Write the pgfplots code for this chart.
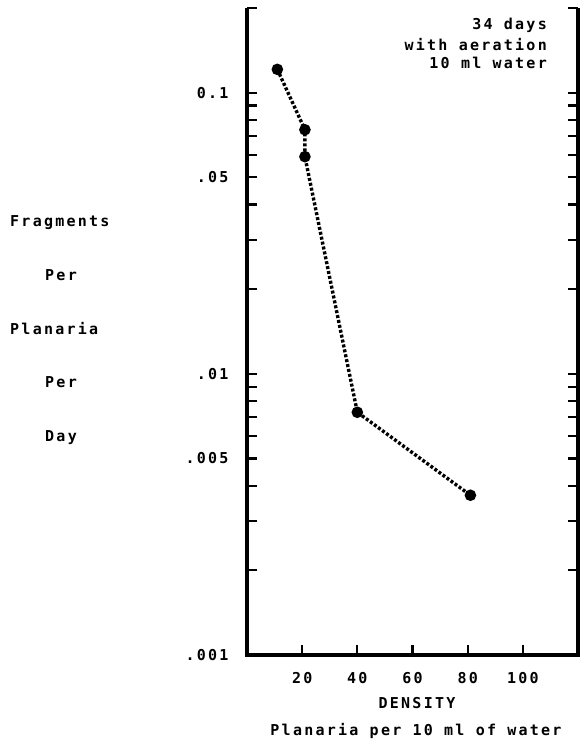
\documentclass[border=0pt]{standalone}
\usepackage{fontspec}
\newfontfamily\tw[LetterSpace=15]{DejaVu Sans Mono Bold}
\usepackage{pgfplots}
\pgfplotsset{compat=1.18}
\newcommand\lbl{\tw\fontsize{15}{18}\selectfont}
\begin{document}
\begin{tikzpicture}[x=1pt,y=1pt]
\useasboundingbox (-247,-89) rectangle (333,655);
\begin{axis}[
    scale only axis, width=331pt, height=647pt,
    xmin=0, xmax=120, ymode=log, ymin=0.001, ymax=0.2,
    axis line style={draw=none}, clip=false,
    tick align=inside, major tick length=10pt, minor tick length=10pt,
    tick style={black, line width=2.2pt},
    xtick={20,40,60,80,100}, xticklabels={20,40,60,80,100}, xtick pos=bottom,
    ytick={0.001,0.005,0.01,0.05,0.1}, yticklabels={.001,.005,.01,.05,0.1},
    minor ytick={0.002,0.003,0.004,0.006,0.007,0.008,0.009,0.02,0.03,0.04,0.06,0.07,0.08,0.09,0.2},
    ytick pos=both, yticklabel pos=left,
    ticklabel style={font=\lbl},
    xticklabel style={yshift=-14pt},
    yticklabel style={xshift=-15pt},
]
    \draw[line width=3.4pt] (rel axis cs:0,1) -- (rel axis cs:0,0) -- (rel axis cs:1,0) -- (rel axis cs:1,1);
    \addplot[black, line width=3.4pt, dash pattern=on 3pt off 2pt, mark=*, mark size=4pt, mark options={solid}]
        coordinates {(11,0.121)(21,0.0738)(21,0.0592)(40,0.0073)(81,0.0037)};
\end{axis}
\begin{scope}[every node/.style={font=\lbl, inner sep=0pt}]
    \node[anchor=base east] at (300,625) {34 days};
    \node[anchor=base east] at (300,604) {with aeration};
    \node[anchor=base east] at (300,586) {10 ml water};
    \node[anchor=base west] at (-237,428) {Fragments};
    \node[anchor=base west] at (-202,374) {Per};
    \node[anchor=base west] at (-237,320) {Planaria};
    \node[anchor=base west] at (-202,267) {Per};
    \node[anchor=base west] at (-202,213) {Day};
    \node[anchor=base] at (170,-53) {DENSITY};
    \node[anchor=base] at (169,-80) {Planaria per 10 ml of water};
\end{scope}
\end{tikzpicture}
\end{document}
